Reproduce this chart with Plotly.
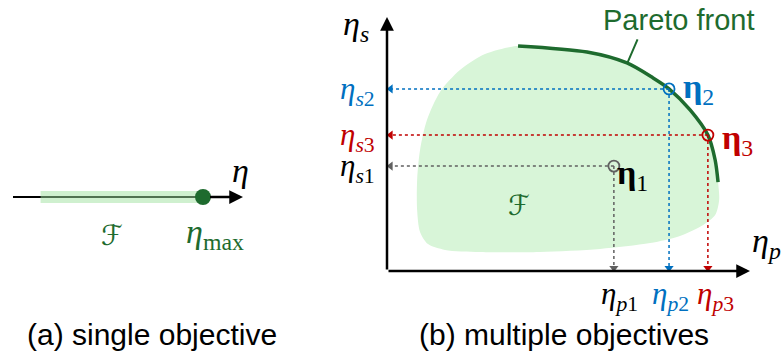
import plotly.graph_objects as go

# ---------------- data (normalized objective space) ----------------
# panel (a): single objective axis eta in [0,1]
feasible_a = [0.12, 0.80]
eta_max = 0.826

# panel (b): eta_p (x) and eta_s (y)
pareto_p = [0.361, 0.551, 0.661, 0.733, 0.777, 0.835, 0.884, 0.904, 0.912]
pareto_s = [0.886, 0.862, 0.819, 0.760, 0.717, 0.634, 0.535, 0.437, 0.350]

region_p = [0.915, 0.904, 0.871, 0.807, 0.725, 0.587, 0.421, 0.256, 0.160, 0.113,
            0.091, 0.083, 0.083, 0.091, 0.110, 0.146, 0.201, 0.270, 0.339]
region_s = [0.280, 0.220, 0.181, 0.138, 0.110, 0.087, 0.075, 0.075, 0.083, 0.106,
            0.154, 0.240, 0.358, 0.476, 0.594, 0.705, 0.791, 0.854, 0.882]

point_names = ["1", "2", "3"]
point_p = [0.625, 0.777, 0.884]
point_s = [0.413, 0.717, 0.535]
point_colors = ["#606060", "#0070C0", "#C00000"]
label_colors = ["#000000", "#0070C0", "#C00000"]

W, H = 782, 359
GREEN = "#1E6B2E"
LIGHT = "#D8F5D8"
MATH = "Liberation Serif, DejaVu Serif, serif"
SCRIPT = "DejaVu Sans, serif"
SANS = "Liberation Sans, Arial, sans-serif"

XA = [13 / W, 243 / W]
YA = [(H - 232) / H, (H - 162) / H]
XB = [387 / W, 750 / W]
YB = [(H - 271) / H, (H - 17) / H]


def pa_x(v):  # panel (a) data -> paper
    return XA[0] + v * (XA[1] - XA[0])


def pa_y(v):
    return YA[0] + (v + 1) / 2 * (YA[1] - YA[0])


def pb_x(v):  # panel (b) data -> paper
    return XB[0] + v * (XB[1] - XB[0])


def pb_y(v):
    return YB[0] + v * (YB[1] - YB[0])


fig = go.Figure()

# ---------------- panel (a) ----------------
fig.add_trace(go.Scatter(x=[0, 0.97], y=[0, 0], mode="lines",
                         line=dict(color="black", width=2), xaxis="x", yaxis="y",
                         hoverinfo="skip", showlegend=False))
band_h = 0.17
fig.add_trace(go.Scatter(x=[feasible_a[0], feasible_a[1], feasible_a[1], feasible_a[0], feasible_a[0]],
                         y=[-band_h, -band_h, band_h, band_h, -band_h], mode="lines",
                         fill="toself", fillcolor="rgba(160,225,160,0.5)", line=dict(width=0),
                         xaxis="x", yaxis="y", hoverinfo="skip", showlegend=False))
fig.add_trace(go.Scatter(x=[eta_max], y=[0], mode="markers",
                         marker=dict(color=GREEN, size=16), xaxis="x", yaxis="y",
                         hoverinfo="skip", showlegend=False))

# ---------------- panel (b) ----------------
fig.add_trace(go.Scatter(x=pareto_p + region_p + [pareto_p[0]], y=pareto_s + region_s + [pareto_s[0]],
                         mode="lines", fill="toself", fillcolor=LIGHT,
                         line=dict(width=0, shape="spline", smoothing=0.8),
                         xaxis="x2", yaxis="y2", hoverinfo="skip", showlegend=False))
fig.add_trace(go.Scatter(x=pareto_p, y=pareto_s, mode="lines",
                         line=dict(color=GREEN, width=3.5, shape="spline", smoothing=0.8),
                         xaxis="x2", yaxis="y2", hoverinfo="skip", showlegend=False, cliponaxis=False))

x_end, y_end = 0.010, 0.012
for name, px, ps, c in zip(point_names, point_p, point_s, point_colors):
    fig.add_trace(go.Scatter(x=[px, x_end], y=[ps, ps], mode="lines",
                             line=dict(color=c, width=1.5, dash="dot"),
                             xaxis="x2", yaxis="y2", hoverinfo="skip", showlegend=False, cliponaxis=False))
    fig.add_trace(go.Scatter(x=[px, px], y=[ps, y_end], mode="lines",
                             line=dict(color=c, width=1.5, dash="dot"),
                             xaxis="x2", yaxis="y2", hoverinfo="skip", showlegend=False, cliponaxis=False))
    fig.add_trace(go.Scatter(x=[x_end], y=[ps], mode="markers",
                             marker=dict(symbol="triangle-left", size=8, color=c),
                             xaxis="x2", yaxis="y2", hoverinfo="skip", showlegend=False, cliponaxis=False))
    fig.add_trace(go.Scatter(x=[px], y=[y_end], mode="markers",
                             marker=dict(symbol="triangle-down", size=8, color=c),
                             xaxis="x2", yaxis="y2", hoverinfo="skip", showlegend=False, cliponaxis=False))
    fig.add_trace(go.Scatter(x=[px], y=[ps], mode="markers",
                             marker=dict(symbol="circle-open", size=11, color=c, line=dict(width=1.8)),
                             xaxis="x2", yaxis="y2", hoverinfo="skip", showlegend=False, cliponaxis=False))

annotations = []


def arrow(x, y, ax, ay, xr, yr):
    annotations.append(dict(x=x, y=y, ax=ax, ay=ay, xref=xr, yref=yr, axref=xr, ayref=yr,
                            text="", showarrow=True, arrowhead=2, arrowsize=1.1,
                            arrowwidth=2.5, arrowcolor="black"))


def label(text, x, y, size, color="black", family=MATH, xanchor="center", yanchor="middle"):
    annotations.append(dict(text=text, x=x, y=y, xref="paper", yref="paper", showarrow=False,
                            font=dict(size=size, color=color, family=family),
                            xanchor=xanchor, yanchor=yanchor))


# axes arrows
arrow(1.0, 0, 0.85, 0, "x", "y")
arrow(0, 1.0, 0, 0, "x2", "y2")
arrow(1.0, 0, 0, 0, "x2", "y2")

# panel (a) labels
label("<i>η</i>", pa_x(0.99), pa_y(0.75), 34)
label("<i>ℱ</i>", pa_x(0.43), pa_y(-1.1), 28, GREEN, family=SCRIPT)
label("<i>η</i><sub>max</sub>", pa_x(0.88), pa_y(-1.05), 34, GREEN)
label("(a) single objective", 152 / W, 1 - 334 / H, 30, family=SANS)

# panel (b) labels
label("<i>η<sub>s</sub></i>", pb_x(-0.085), pb_y(0.965), 34)
label("<i>η<sub>p</sub></i>", pb_x(1.0), pb_y(0.11), 34, xanchor="left")
label("<i>ℱ</i>", pb_x(0.364), pb_y(0.258), 28, GREEN, family=SCRIPT)
p_label_dx = [0.016, 0.003, 0.022]
for name, px, ps, lc, ldx in zip(point_names, point_p, point_s, label_colors, p_label_dx):
    label("<i>η<sub>s</sub></i><sub>" + name + "</sub>", pb_x(-0.028), pb_y(ps - 0.008), 31, lc, xanchor="right")
    label("<i>η<sub>p</sub></i><sub>" + name + "</sub>", pb_x(px + ldx), pb_y(-0.1), 31, lc)

dx = [0.004, 0.033, 0.033]
dy = [-0.035, 0.0, -0.02]
for name, px, ps, lc, ddx, ddy in zip(point_names, point_p, point_s, label_colors, dx, dy):
    label("<b>η</b><sub>" + name + "</sub>", pb_x(px + ddx), pb_y(ps + ddy), 34, lc, xanchor="left")

label("Pareto front", pb_x(0.805), pb_y(0.99), 29, GREEN, family=SANS)
annotations.append(dict(x=0.662, y=0.818, ax=0.692, ay=0.918, xref="x2", yref="y2",
                        axref="x2", ayref="y2", text="", showarrow=True, arrowhead=0,
                        arrowwidth=2, arrowcolor=GREEN))
label("(b) multiple objectives", 564 / W, 1 - 334 / H, 30, family=SANS)

ax_common = dict(visible=False, showgrid=False, zeroline=False, fixedrange=True)
fig.update_layout(
    width=W, height=H, margin=dict(l=0, r=0, t=0, b=0),
    paper_bgcolor="white", plot_bgcolor="rgba(0,0,0,0)", showlegend=False,
    xaxis=dict(domain=XA, range=[0, 1], **ax_common),
    yaxis=dict(domain=YA, range=[-1, 1], **ax_common),
    xaxis2=dict(domain=XB, range=[0, 1], anchor="y2", **ax_common),
    yaxis2=dict(domain=YB, range=[0, 1], anchor="x2", **ax_common),
    annotations=annotations,
)

fig.write_html("out.html")
